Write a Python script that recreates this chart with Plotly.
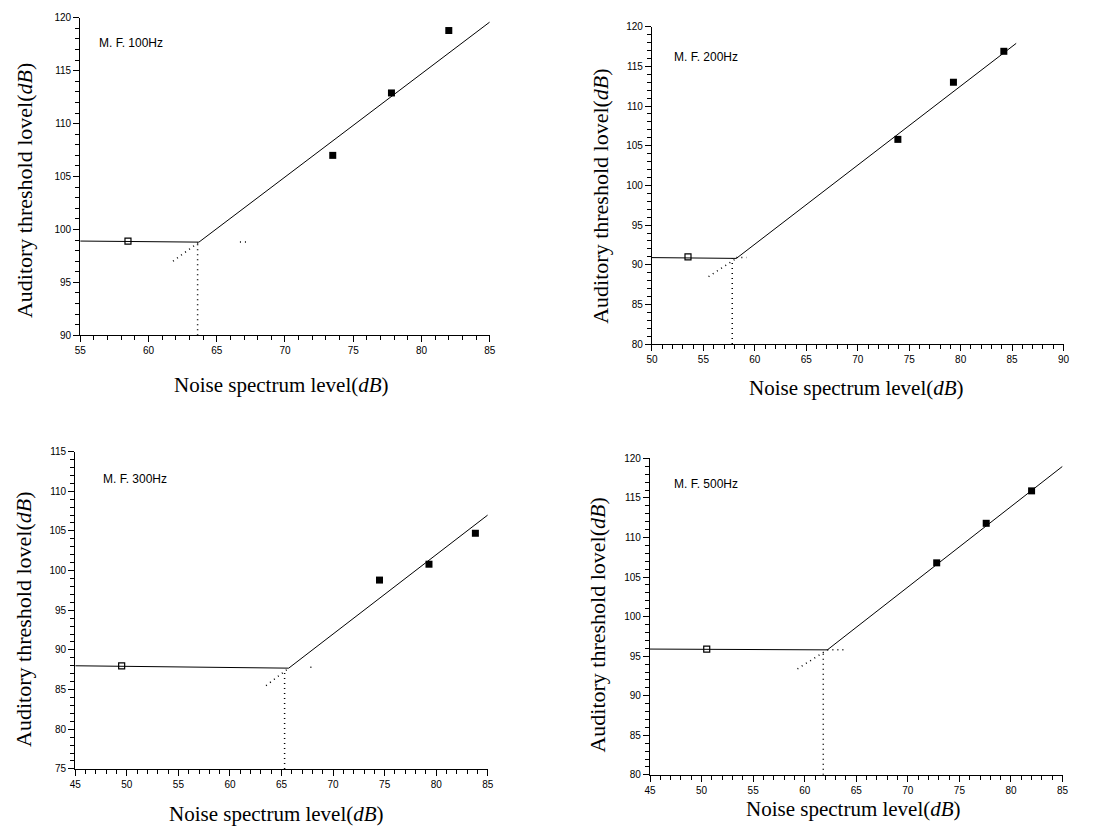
import plotly.graph_objects as go

W, H = 1117, 839

# ---------------- data ----------------
labels = ["M. F. 100Hz", "M. F. 200Hz", "M. F. 300Hz", "M. F. 500Hz"]
x_ranges = [[55, 85], [50, 90], [45, 85], [45, 85]]
y_ranges = [[90, 120], [80, 120], [75, 115], [80, 120]]

open_x = [[58.5], [53.5], [49.5], [50.5]]
open_y = [[98.9], [91.0], [88.0], [95.9]]

filled_x = [[73.5, 77.8, 82.0], [73.9, 79.3, 84.2], [74.5, 79.3, 83.8], [72.8, 77.6, 82.0]]
filled_y = [[107.0, 112.9, 118.8], [105.8, 113.0, 116.9], [98.8, 100.8, 104.7], [106.8, 111.8, 115.9]]

fit_x = [[55, 63.7, 85], [50, 58.2, 85.4], [45, 65.7, 85], [45, 62.2, 85]]
fit_y = [[98.9, 98.8, 119.6], [90.9, 90.8, 117.9], [88.0, 87.7, 107.0], [95.9, 95.8, 119.0]]

ext_x = [[61.8, 63.7], [55.5, 58.2], [63.5, 65.5], [59.3, 62.2]]
ext_y = [[97.0, 98.8], [88.5, 90.8], [85.5, 87.5], [93.4, 95.8]]

knee_x = [63.6, 57.8, 65.3, 61.8]
knee_y = [98.8, 90.8, 87.5, 95.6]

hdot_x = [[66.7, 67.2], [58.2, 59.2], [67.8, 68.2], [62.2, 64.0]]
hdot_y = [98.8, 90.9, 87.8, 95.8]

# ---------------- layout geometry (pixels) ----------------
plot_px = [  # x0, x1, ytop, ybottom
    (75, 489, 12, 334),
    (653, 1069, 21, 343),
    (70, 487, 452, 774),
    (651, 1068, 459, 780),
]
ytitle_px = [(19, 187), (601, 193), (17, 622), (597, 628)]
xtitle_px = [(278, 385), (860, 388), (273, 820), (857, 815)]
label_px = [(92, 38), (673, 52), (96, 480), (673, 485)]


def px(x):
    return x / W


def py(y):
    return 1 - y / H


fig = go.Figure()
layout = dict(
    width=W, height=H, margin=dict(l=0, r=0, t=0, b=0),
    paper_bgcolor="white", plot_bgcolor="white", showlegend=False,
)
annotations = []
serif = "Liberation Serif, DejaVu Serif, serif"
sans = "Liberation Sans, Arial, sans-serif"

for i in range(4):
    xa = "x" if i == 0 else f"x{i+1}"
    ya = "y" if i == 0 else f"y{i+1}"
    xk = "xaxis" if i == 0 else f"xaxis{i+1}"
    yk = "yaxis" if i == 0 else f"yaxis{i+1}"
    x0, x1, yt, yb = plot_px[i]

    line = dict(color="black", width=1)
    dot = dict(color="black", width=1.5, dash="1px,4px")

    fig.add_trace(go.Scatter(x=fit_x[i], y=fit_y[i], mode="lines", line=line, xaxis=xa, yaxis=ya))
    fig.add_trace(go.Scatter(x=ext_x[i], y=ext_y[i], mode="lines", line=dot, xaxis=xa, yaxis=ya))
    fig.add_trace(go.Scatter(x=[knee_x[i], knee_x[i]], y=[y_ranges[i][0], knee_y[i]], mode="lines",
                             line=dot, xaxis=xa, yaxis=ya))
    fig.add_trace(go.Scatter(x=hdot_x[i], y=[hdot_y[i], hdot_y[i]], mode="lines", line=dot,
                             xaxis=xa, yaxis=ya))
    fig.add_trace(go.Scatter(x=open_x[i], y=open_y[i], mode="markers",
                             marker=dict(symbol="square-open", size=6, color="black", line=dict(width=1.2)),
                             xaxis=xa, yaxis=ya, cliponaxis=False))
    fig.add_trace(go.Scatter(x=filled_x[i], y=filled_y[i], mode="markers",
                             marker=dict(symbol="square", size=7, color="black"),
                             xaxis=xa, yaxis=ya, cliponaxis=False))

    common = dict(
        showline=True, linecolor="black", linewidth=1.2, mirror=False,
        tickmode="linear", dtick=5,
        ticks="outside", ticklen=6, tickwidth=1, tickcolor="black",
        minor=dict(ticks="outside", dtick=1, ticklen=4, tickwidth=1, tickcolor="black", showgrid=False),
        showgrid=False, zeroline=False,
        tickfont=dict(family=sans, size=10, color="black"),
    )
    layout[xk] = dict(domain=[px(x0), px(x1)], range=x_ranges[i], anchor=ya, tick0=x_ranges[i][0], **common)
    layout[yk] = dict(domain=[py(yb), py(yt)], range=y_ranges[i], anchor=xa, tick0=y_ranges[i][0], **common)

    annotations.append(dict(
        text="Auditory threshold lovel(<i>dB</i>)", xref="paper", yref="paper",
        x=px(ytitle_px[i][0]), y=py(ytitle_px[i][1]), textangle=-90, showarrow=False,
        xanchor="center", yanchor="middle", font=dict(family=serif, size=22, color="black"),
    ))
    annotations.append(dict(
        text="Noise spectrum level(<i>dB</i>)", xref="paper", yref="paper",
        x=px(xtitle_px[i][0]), y=py(xtitle_px[i][1]), showarrow=False,
        xanchor="center", yanchor="middle", font=dict(family=serif, size=21, color="black"),
    ))
    annotations.append(dict(
        text=labels[i], xref="paper", yref="paper",
        x=px(label_px[i][0]), y=py(label_px[i][1]), showarrow=False,
        xanchor="left", yanchor="middle", font=dict(family=sans, size=12, color="black"),
    ))

layout["annotations"] = annotations
fig.update_layout(**layout)
fig.write_html("out.html", config={"displayModeBar": False},
               post_script="document.body.style.margin='0';")
